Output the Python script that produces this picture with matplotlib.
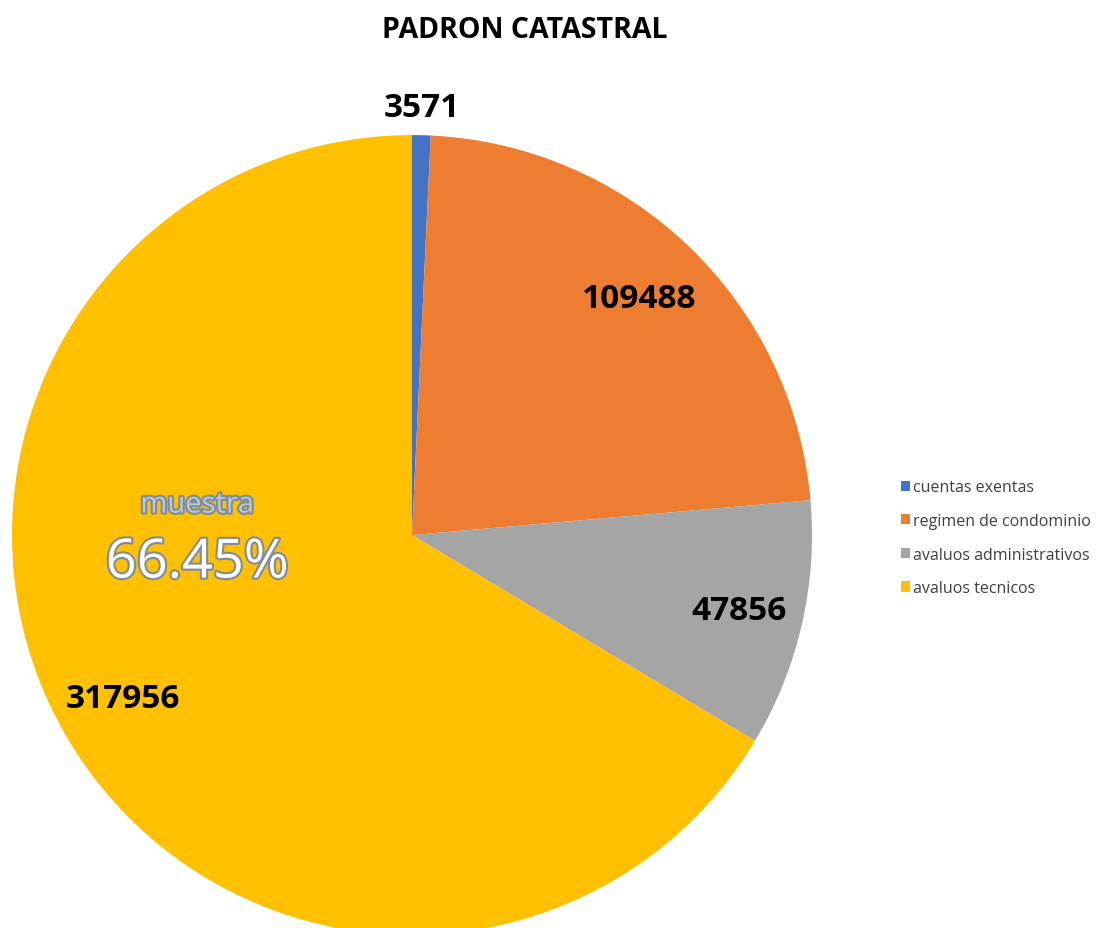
import numpy as np
import matplotlib.pyplot as plt
import matplotlib.patheffects as pe
from matplotlib.patches import Patch

# data
categories = ['cuentas exentas', 'regimen de condominio', 'avaluos administrativos', 'avaluos tecnicos']
values = [3571, 109488, 47856, 317956]
colors = ['#4472C4', '#ED7D31', '#A5A5A5', '#FFC000']
label_dist = [1.07, 0.82, 0.84, 0.83]

plt.rcParams['font.family'] = ['Open Sans', 'DejaVu Sans']

fig = plt.figure(figsize=(11.01, 9.29), dpi=100)
ax = fig.add_axes([0.0109, -0.0076, 0.7266, 0.8611])

wedges, _ = ax.pie(values, colors=colors, startangle=90, counterclock=False,
                   radius=1, frame=False)
ax.set_xlim(-1, 1)
ax.set_ylim(-1, 1)
ax.set_aspect('equal')
ax.axis('off')

# value labels
for w, v, d in zip(wedges, values, label_dist):
    ang = np.deg2rad((w.theta1 + w.theta2) / 2)
    ax.text(d * np.cos(ang), d * np.sin(ang), str(v), ha='center', va='center',
            fontsize=24, fontweight='bold', color='black', clip_on=False)

# annotation on the big slice
ax.text(-0.537, 0.075, 'muestra', ha='center', va='center', fontsize=21,
        color='#B8C7D9',
        path_effects=[pe.withStroke(linewidth=3, foreground='#7F8C99')])
ax.text(-0.537, -0.07, '66.45%', ha='center', va='center', fontsize=39,
        color='white',
        path_effects=[pe.withStroke(linewidth=3, foreground='#7F8C99')])

fig.text(0.477, 0.967, 'PADRON CATASTRAL', ha='center', va='center',
         fontsize=20.5, fontweight='bold', color='black')

handles = [Patch(facecolor=c, edgecolor='none') for c in colors]
fig.legend(handles, categories, loc='center left', bbox_to_anchor=(0.805, 0.42),
           frameon=False, fontsize=11.5, labelcolor='#404040',
           handlelength=0.6, handleheight=0.6, handletextpad=0.2,
           labelspacing=1.1)

fig.savefig('out.png', dpi=100)
